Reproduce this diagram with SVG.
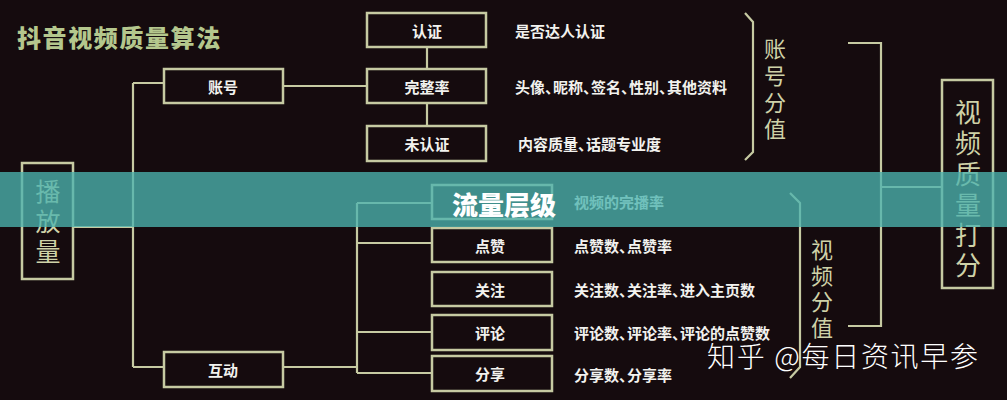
<svg xmlns="http://www.w3.org/2000/svg" width="1007" height="400" viewBox="0 0 1007 400">
<style>
.bg{fill:#150b0e}
.box{fill:#150b0e;stroke:#c6caa2;stroke-width:2.5}
.ln{fill:none;stroke:#c6caa2;stroke-width:2.2}
.lbl{font-family:"Noto Sans CJK SC","Noto Sans",sans-serif;font-weight:700;font-size:15px;fill:#f2f2ee;text-anchor:middle;dominant-baseline:central}
.desc{font-family:"Noto Sans CJK SC","Noto Sans",sans-serif;font-weight:700;font-size:15px;fill:#f2f2ee;dominant-baseline:central}
.vt{font-family:"Noto Sans CJK SC","Noto Sans",sans-serif;font-weight:400;fill:#cfd2a8;text-anchor:middle;dominant-baseline:central}
</style>
<rect class="bg" x="0" y="0" width="1007" height="400"/>
<text x="17" y="36" font-family="'Noto Sans CJK SC',sans-serif" font-weight="900" font-size="24" letter-spacing="1.6" fill="#b4c78d" dominant-baseline="central">抖音视频质量算法</text>
<g id="connectors">
<path class="ln" d="M73 227H133M133 83V367M133 83H164M133 367H164"/>
<path class="ln" d="M283 86H367M427 47V69M427 103V126"/>
<path class="ln" d="M283 367H357M357 203V373M357 203H432M357 243H432M357 332H432M357 373H432"/>
<path class="ln" d="M745 13L753 22V152L745 160"/>
<path class="ln" d="M790 193L800 203V367L790 378"/>
<path class="ln" d="M848 43H881V326H848M881 187H942"/>
</g>
<g id="n-play"><rect class="box" x="22" y="163" width="51" height="116"/>
<text class="vt" font-size="25" x="48" y="190">播</text><text class="vt" font-size="25" x="48" y="220">放</text><text class="vt" font-size="25" x="48" y="250">量</text></g>
<g id="n-account"><rect class="box" x="164" y="69" width="119" height="34"/><text class="lbl" x="223" y="86">账号</text></g>
<g id="n-interact"><rect class="box" x="164" y="352" width="119" height="35"/><text class="lbl" x="223" y="369">互动</text></g>
<g id="n-verify"><rect class="box" x="367" y="13" width="119" height="34"/><text class="lbl" x="427" y="30">认证</text><text class="desc" x="515" y="30">是否达人认证</text></g>
<g id="n-complete"><rect class="box" x="367" y="69" width="119" height="34"/><text class="lbl" x="427" y="86">完整率</text><text class="desc" x="515" y="86">头像、<tspan dx="-7">昵称、</tspan><tspan dx="-7">签名、</tspan><tspan dx="-7">性别、</tspan><tspan dx="-7">其他资料</tspan></text></g>
<g id="n-unverify"><rect class="box" x="367" y="126" width="119" height="35"/><text class="lbl" x="427" y="143">未认证</text><text class="desc" x="518" y="143">内容质量、<tspan dx="-7">话题专业度</tspan></text></g>
<g id="n-finish"><rect class="box" x="432" y="185" width="120" height="34"/><text class="desc" x="574" y="201">视频的完播率</text></g>
<g id="n-like"><rect class="box" x="432" y="228" width="120" height="34"/><text class="lbl" x="490" y="245">点赞</text><text class="desc" x="574" y="245">点赞数、<tspan dx="-7">点赞率</tspan></text></g>
<g id="n-follow"><rect class="box" x="432" y="272" width="120" height="34"/><text class="lbl" x="490" y="289">关注</text><text class="desc" x="574" y="289">关注数、<tspan dx="-7">关注率、</tspan><tspan dx="-7">进入主页数</tspan></text></g>
<g id="n-comment"><rect class="box" x="432" y="315" width="120" height="35"/><text class="lbl" x="490" y="332">评论</text><text class="desc" x="574" y="332">评论数、<tspan dx="-7">评论率、</tspan><tspan dx="-7">评论的点赞数</tspan></text></g>
<g id="n-share"><rect class="box" x="432" y="356" width="120" height="35"/><text class="lbl" x="490" y="373">分享</text><text class="desc" x="574" y="374">分享数、<tspan dx="-7">分享率</tspan></text></g>
<g id="n-account-score"><text class="vt" font-size="22" x="775" y="47">账</text><text class="vt" font-size="22" x="775" y="74">号</text><text class="vt" font-size="22" x="775" y="101">分</text><text class="vt" font-size="22" x="775" y="127">值</text></g>
<g id="n-video-score"><text class="vt" font-size="22" x="822" y="248">视</text><text class="vt" font-size="22" x="822" y="274">频</text><text class="vt" font-size="22" x="822" y="300">分</text><text class="vt" font-size="22" x="822" y="326">值</text></g>
<g id="n-quality"><rect class="box" x="942" y="80" width="51" height="208"/>
<text class="vt" font-size="26" x="968" y="110">视</text><text class="vt" font-size="26" x="968" y="141">频</text><text class="vt" font-size="26" x="968" y="172">质</text><text class="vt" font-size="26" x="968" y="203">量</text><text class="vt" font-size="26" x="968" y="233">打</text><text class="vt" font-size="26" x="968" y="263">分</text></g>
<rect x="0" y="172" width="1007" height="55" fill="#4cb4ae" fill-opacity="0.78"/>
<text x="452" y="203" font-family="'Noto Sans CJK SC',sans-serif" font-weight="900" font-size="26" fill="#ffffff" dominant-baseline="central">流量层级</text>
<text x="707" y="355" textLength="271" lengthAdjust="spacing" font-family="'Noto Sans CJK SC',sans-serif" font-weight="300" font-size="28" fill="#ffffff" dominant-baseline="central">知乎 @每日资讯早参</text>
</svg>
